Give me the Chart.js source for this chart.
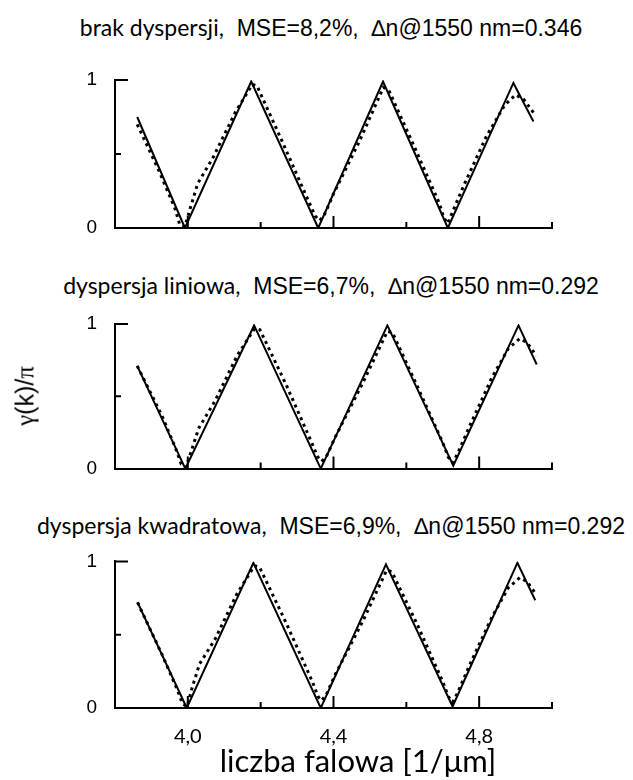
<!DOCTYPE html>
<html>
<head>
<meta charset="utf-8">
<script src="https://cdn.jsdelivr.net/npm/chart.js@4.4.1/dist/chart.umd.min.js"></script>
<style>
  body { margin: 0; background: #fff; }
  #page { position: relative; width: 633px; height: 780px; overflow: hidden; }
  canvas { position: absolute; left: 0; }
  .title { position: absolute; left: 0; width: 662px; text-align: center; font-size: 23px; line-height: 26px; white-space: pre; color: #000; }
  .cal { font-family: Lato, "Open Sans", sans-serif; }
  .ari { font-family: "Liberation Sans", Arial, sans-serif; }
  .ylab { position: absolute; left: 25px; top: 396px; transform: translate(-50%, -50%) rotate(-90deg); font-size: 25px; line-height: 28px; white-space: pre; font-family: "Liberation Sans", sans-serif; }
  .ylab .sym { font-family: "Liberation Serif", serif; }
  .xlab { position: absolute; left: 358px; top: 760px; transform: translate(-50%, -50%); font-size: 31px; line-height: 34px; white-space: pre; font-family: Lato, "Open Sans", sans-serif; }
</style>
</head>
<body>
<div id="page">
  <div class="title" id="t1" style="top:14px"></div>
  <div class="title" id="t2" style="top:272px"></div>
  <div class="title" id="t3" style="top:512px"></div>
  <canvas id="c1" width="633" height="200" style="top:50px"></canvas>
  <canvas id="c2" width="633" height="190" style="top:300px"></canvas>
  <canvas id="c3" width="633" height="240" style="top:540px"></canvas>
  <div class="ylab"><span class="sym">γ</span>(k)/<span class="sym">π</span></div>
  <div class="xlab">liczba falowa [1/μm]</div>
</div>
<script>
// panel titles: [name part, numbers part]
const titleNames = ["brak dyspersji,", "dyspersja liniowa,", "dyspersja kwadratowa,"];
const titleStats = ["MSE=8,2%,  ∆n@1550 nm=0.346", "MSE=6,7%,  ∆n@1550 nm=0.292", "MSE=6,9%,  ∆n@1550 nm=0.292"];

// axis ticks
const xMin = 3.8, xMax = 5.0;
const xMajorTicks = [4.0, 4.4, 4.8];
const xMinorTicks = [4.2, 4.6, 5.0];
const xTickLabels = ["4,0", "4,4", "4,8"];
const yTickValues = [0, 0.5, 1];
const yTickLabels = ["0", "", "1"];

// panel 1 - brak dyspersji
const solidK1 = [3.861, 3.992, 4.174, 4.358, 4.536, 4.714, 4.894, 4.949];
const solidG1 = [0.75, 0.00, 0.99, 0.00, 0.99, 0.00, 0.98, 0.72];
const fitK1 = [3.861, 3.92, 3.965, 3.978, 3.992, 4.005, 4.027, 4.07, 4.13, 4.177, 4.19, 4.26, 4.33, 4.35, 4.362, 4.375, 4.40, 4.47, 4.537, 4.552, 4.62, 4.69, 4.703, 4.714, 4.727, 4.76, 4.82, 4.87, 4.90, 4.922, 4.949];
const fitG1 = [0.70, 0.39, 0.13, 0.02, 0.01, 0.12, 0.30, 0.48, 0.78, 0.97, 0.96, 0.58, 0.19, 0.08, 0.05, 0.09, 0.23, 0.58, 0.95, 0.93, 0.56, 0.17, 0.07, 0.03, 0.11, 0.30, 0.62, 0.83, 0.90, 0.87, 0.78];

// panel 2 - dyspersja liniowa
const solidK2 = [3.861, 3.993, 4.182, 4.365, 4.548, 4.729, 4.908, 4.958];
const solidG2 = [0.71, 0.00, 0.99, 0.00, 0.99, 0.02, 0.99, 0.72];
const fitK2 = [3.861, 3.93, 3.968, 3.982, 3.995, 4.008, 4.03, 4.075, 4.135, 4.184, 4.198, 4.27, 4.34, 4.357, 4.367, 4.38, 4.405, 4.48, 4.548, 4.562, 4.63, 4.70, 4.715, 4.727, 4.74, 4.775, 4.835, 4.88, 4.912, 4.932, 4.957];
const fitG2 = [0.71, 0.36, 0.13, 0.03, 0.01, 0.11, 0.28, 0.47, 0.78, 0.97, 0.96, 0.58, 0.18, 0.08, 0.05, 0.08, 0.22, 0.59, 0.95, 0.94, 0.57, 0.18, 0.08, 0.04, 0.10, 0.30, 0.63, 0.83, 0.90, 0.87, 0.78];

// panel 3 - dyspersja kwadratowa
const solidK3 = [3.862, 3.997, 4.180, 4.365, 4.544, 4.727, 4.905, 4.954];
const solidG3 = [0.72, 0.00, 0.99, 0.00, 0.98, 0.01, 0.99, 0.735];
const fitK3 = [3.862, 3.93, 3.972, 3.985, 3.998, 4.012, 4.032, 4.075, 4.135, 4.183, 4.197, 4.27, 4.342, 4.357, 4.367, 4.38, 4.405, 4.48, 4.546, 4.56, 4.63, 4.70, 4.715, 4.727, 4.74, 4.775, 4.835, 4.88, 4.912, 4.932, 4.955];
const fitG3 = [0.72, 0.36, 0.12, 0.03, 0.01, 0.14, 0.30, 0.47, 0.78, 0.97, 0.96, 0.58, 0.18, 0.08, 0.05, 0.09, 0.23, 0.59, 0.94, 0.93, 0.57, 0.18, 0.08, 0.04, 0.10, 0.30, 0.62, 0.82, 0.89, 0.86, 0.78];

// -----------------------------------------------------------------------

titleNames.forEach((name, i) => {
    document.querySelector("#t" + (i + 1)).innerHTML =
        `<span class="cal">${name}</span><span class="ari">  ${titleStats[i]}</span>`;
});

// inward tick marks, like the original plot
const innerTicks = {
    id: "innerTicks",
    afterDraw(chart) {
        const { ctx, scales: { x, y } } = chart;
        const y0 = y.getPixelForValue(0);
        const x0 = x.getPixelForValue(xMin);
        ctx.save();
        ctx.strokeStyle = "#000";
        ctx.lineWidth = 2;
        ctx.beginPath();
        for (const v of xMajorTicks) {
            const px = x.getPixelForValue(v);
            ctx.moveTo(px, y0);
            ctx.lineTo(px, y0 - 12);
        }
        for (const v of xMinorTicks) {
            const px = x.getPixelForValue(v);
            ctx.moveTo(px, y0);
            ctx.lineTo(px, y0 - 6);
        }
        for (const v of yTickValues) {
            if (v === 0) continue;
            const py = y.getPixelForValue(v);
            ctx.moveTo(x0, py);
            ctx.lineTo(x0 + (v === 1 ? 13 : 6), py);
        }
        ctx.stroke();
        ctx.restore();
    }
};

const toPoints = (ks, gs) => ks.map((k, i) => ({ x: k, y: gs[i] }));

function makePanel(id, canvasTop, canvasHeight, plotTop, plotBottom, solidK, solidG, fitK, fitG, showX) {
    const ctx = document.querySelector(id).getContext("2d");
    return new Chart(ctx, {
        type: "line",
        data: {
            datasets: [{
                data: toPoints(solidK, solidG),
                borderColor: "#000",
                borderWidth: 2,
                pointRadius: 0,
                tension: 0,
            }, {
                data: toPoints(fitK, fitG),
                borderColor: "#000",
                borderWidth: 3,
                borderDash: [3, 4],
                pointRadius: 0,
                tension: 0,
            }]
        },
        options: {
            responsive: false,
            animation: false,
            layout: { padding: { top: plotTop - canvasTop, right: 81, left: 0, bottom: 0 } },
            plugins: { legend: { display: false }, tooltip: { enabled: false } },
            scales: {
                x: {
                    type: "linear",
                    min: xMin,
                    max: xMax,
                    afterBuildTicks: s => { s.ticks = xMajorTicks.map(v => ({ value: v })); },
                    grid: { display: false },
                    border: { display: true, color: "#000", width: 2 },
                    ticks: {
                        display: showX,
                        autoSkip: false,
                        maxRotation: 0,
                        padding: 9,
                        color: "#000",
                        font: { family: "Lato", size: 20 },
                        callback: v => xTickLabels[xMajorTicks.indexOf(Math.round(v * 10) / 10)] ?? "",
                    },
                    afterFit: s => { s.height = canvasTop + canvasHeight - plotBottom; },
                },
                y: {
                    min: 0,
                    max: 1,
                    afterBuildTicks: s => { s.ticks = yTickValues.map(v => ({ value: v })); },
                    grid: { display: false },
                    border: { display: true, color: "#000", width: 2 },
                    ticks: {
                        padding: 10,
                        color: "#000",
                        font: { family: "Liberation Sans", size: 19 },
                        callback: v => yTickLabels[yTickValues.indexOf(v)] ?? "",
                    },
                    afterFit: s => { s.width = 115; },
                }
            }
        },
        plugins: [innerTicks]
    });
}

makePanel("#c1", 50, 200, 80, 228, solidK1, solidG1, fitK1, fitG1, false);
makePanel("#c2", 300, 190, 324, 473, solidK2, solidG2, fitK2, fitG2, false);
makePanel("#c3", 540, 240, 557, 708, solidK3, solidG3, fitK3, fitG3, true);
</script>
</body>
</html>
